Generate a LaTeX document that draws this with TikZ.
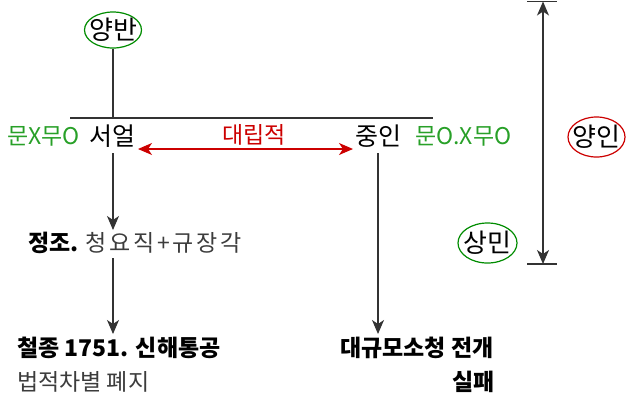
\documentclass[tikz,border=0pt]{standalone}
\usepackage{fontspec}
\setmainfont{Noto Sans CJK KR}
\usepackage{tikz}
\usetikzlibrary{arrows.meta,positioning,shapes.geometric}
\definecolor{classgreen}{RGB}{0,140,0}
\definecolor{notegreen}{RGB}{40,160,40}
\definecolor{conflictred}{RGB}{204,0,0}
\definecolor{linegray}{RGB}{51,51,51}
\definecolor{textgray}{RGB}{60,60,60}

\begin{document}
\begin{tikzpicture}[x=1pt,y=-1pt,
    >={Stealth[length=14pt,width=12pt,inset=4pt]},
    rank/.style={font=\fontsize{25}{27}\selectfont,inner sep=0pt},
    ringtext/.style={font=\fontsize{26}{28}\selectfont,inner sep=0pt},
    ring/.style={ellipse,draw,line width=1.2pt,inner sep=0pt},
    note/.style={font=\fontsize{23}{25}\selectfont,inner sep=0pt},
    boldnote/.style={note,font=\fontsize{23}{25}\selectfont\bfseries},
    flow/.style={linegray,line width=1.2pt,->}]
    \useasboundingbox (0,0) rectangle (626,400);
    % classes in rings
    \node[ring,classgreen,minimum width=57pt,minimum height=36pt] (yangban) at (113,30) {};
    \node[ringtext] at (yangban) {양반};
    \node[ring,conflictred,minimum width=57pt,minimum height=40pt] (yangin) at (596.5,137) {};
    \node[ringtext] at (yangin) {양인};
    \node[ring,classgreen,minimum width=59pt,minimum height=40pt] (sangmin) at (487.5,243) {};
    \node[ringtext] at (sangmin) {상민};
    % middle classes
    \node[rank] (seoeol) at (112,136) {서얼};
    \node[rank] (jungin) at (378,136) {중인};
    \node[note,notegreen,anchor=west] (seoeolnote) at (7,136) {문X무O};
    \node[note,notegreen,anchor=west] (junginnote) at (415,136) {문O.X무O};
    \node[note,conflictred] (opposed) at (254,135) {대립적};
    % events
    \node[note,anchor=west] (jeongjo) at (28,243) {\textbf{정조.} {\addfontfeature{LetterSpace=12}\color{textgray}청요직+규장각}};
    \node[boldnote,anchor=west] (cheoljong) at (17,348) {철종 1751. 신해통공};
    \node[note,textgray,anchor=west] (abolish) at (17,382) {법적차별 폐지};
    \node[boldnote,anchor=west] (petition) at (340,348) {대규모소청 전개};
    \node[boldnote,anchor=east] (failed) at (495,382) {실패};
    % division line
    \coordinate (divleft) at (70,118);
    \coordinate (divright) at (433,118);
    \coordinate (divmid) at (113,118);
    \draw[linegray,line width=1.2pt] (divleft) -- (divright);
    \draw[linegray,line width=1.2pt] (yangban) -- (divmid);
    % conflict arrow
    \coordinate (conleft) at (138,149);
    \coordinate (conright) at (353,149);
    \draw[conflictred,line width=1.2pt,<->] (conleft) -- (conright);
    % flows
    \coordinate (seoeoltop) at (113,153);
    \coordinate (jeongjotop) at (113,230);
    \coordinate (jeongjobot) at (113,258);
    \coordinate (cheoljongtop) at (113,334);
    \coordinate (jungintop) at (378,153);
    \coordinate (petitiontop) at (378,334);
    \draw[flow] (seoeoltop) -- (jeongjotop);
    \draw[flow] (jeongjobot) -- (cheoljongtop);
    \draw[flow] (jungintop) -- (petitiontop);
    % span of yangin
    \coordinate (spantop) at (543,1.5);
    \coordinate (spanbot) at (543,264);
    \foreach \y in {1.5,264}
      \draw[linegray,line width=1.2pt] (527,\y) -- (557,\y);
    \draw[linegray,line width=1.2pt,<->] (spantop) -- (spanbot);
\end{tikzpicture}
\end{document}
